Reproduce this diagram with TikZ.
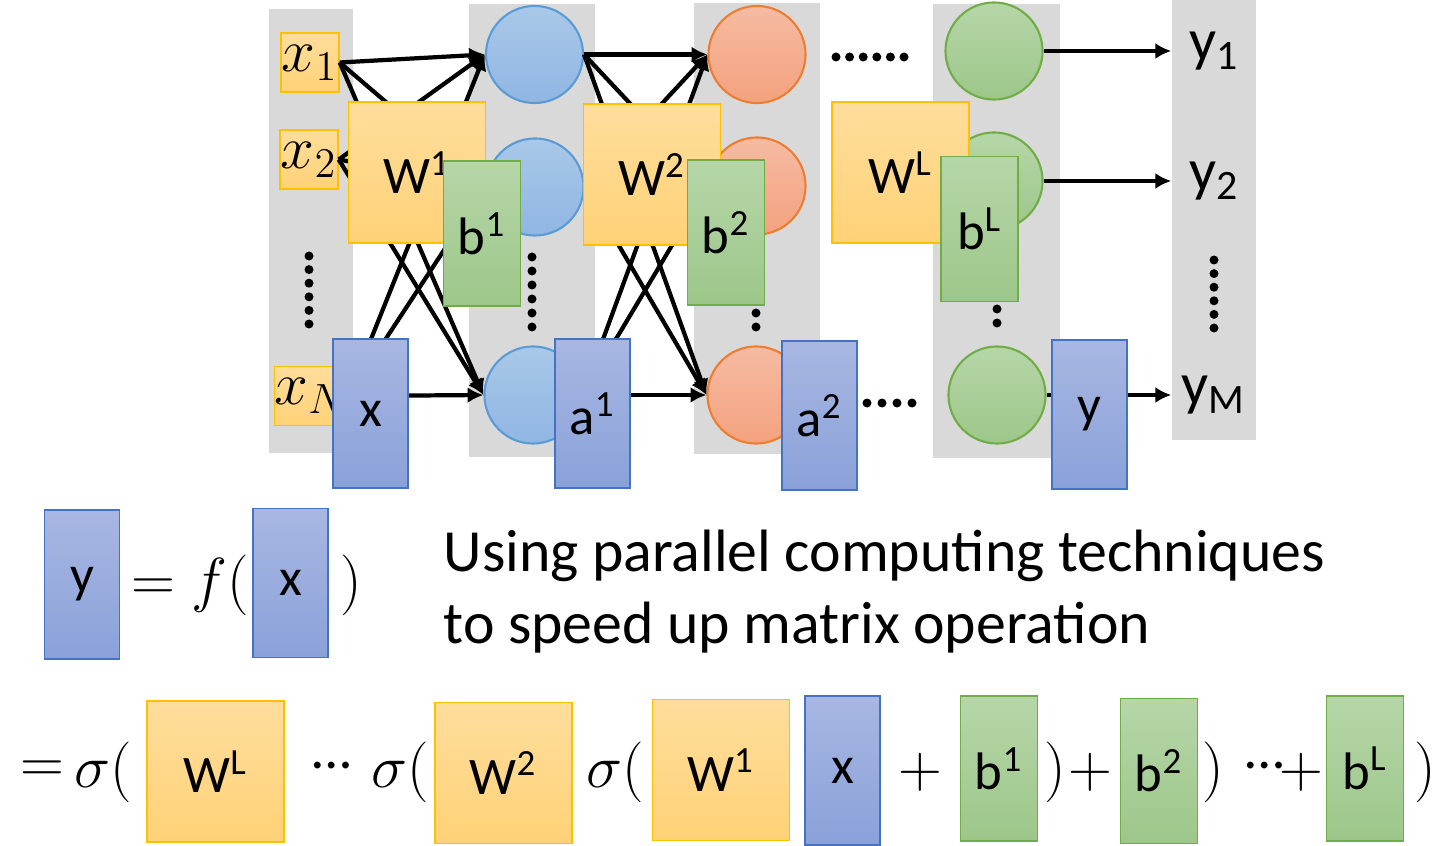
\documentclass[tikz,border=0pt]{standalone}
\usepackage[no-math]{fontspec}
\setmainfont{Carlito}
\usetikzlibrary{arrows.meta}

\definecolor{colgray}{HTML}{D9D9D9}
\definecolor{goldline}{HTML}{FFC000}
\definecolor{goldtop}{HTML}{FFDD9C}
\definecolor{goldbot}{HTML}{FFD277}
\definecolor{greenline}{HTML}{70AD47}
\definecolor{greentop}{HTML}{B6D6A8}
\definecolor{greenbot}{HTML}{9DC78A}
\definecolor{blueline}{HTML}{4472C4}
\definecolor{bluetop}{HTML}{A8B7E2}
\definecolor{bluebot}{HTML}{8AA1D9}
\definecolor{nblueline}{HTML}{5B9BD5}
\definecolor{nbluetop}{HTML}{A9C8E9}
\definecolor{nbluebot}{HTML}{90B6E3}
\definecolor{nredline}{HTML}{ED7D31}
\definecolor{nredtop}{HTML}{F5BBA2}
\definecolor{nredbot}{HTML}{F4A27E}

\begin{document}
\begin{tikzpicture}[x=0.01cm, y=-0.01cm, >=latex,
	font=\fontsize{15}{18}\selectfont,
	inbox/.style={draw=goldline, top color=goldtop, bottom color=goldbot, minimum width=0.58cm, minimum height=0.59cm, inner sep=0pt, font=\fontsize{17}{20}\selectfont},
	wbox/.style={draw=goldline, top color=goldtop, bottom color=goldbot, minimum width=1.37cm, minimum height=1.41cm, inner sep=0pt},
	bbox/.style={draw=greenline, top color=greentop, bottom color=greenbot, minimum width=0.77cm, minimum height=1.45cm, inner sep=0pt},
	vbox/.style={draw=blueline, top color=bluetop, bottom color=bluebot, minimum width=0.75cm, minimum height=1.49cm, inner sep=0pt},
	neuron/.style={circle, minimum size=0.97cm, inner sep=0pt, line width=0.6pt},
	blueneuron/.style={neuron, draw=nblueline, top color=nbluetop, bottom color=nbluebot},
	redneuron/.style={neuron, draw=nredline, top color=nredtop, bottom color=nredbot},
	greenneuron/.style={neuron, draw=greenline, top color=greentop, bottom color=greenbot},
	outlabel/.style={minimum width=0.84cm, inner sep=0pt, font=\fontsize{17}{20}\selectfont},
	eqtext/.style={inner sep=0pt, font=\fontsize{16}{19}\selectfont},
	arrow/.style={-{Latex[length=4.5pt, width=4.5pt]}, line width=1.2pt}]

	\useasboundingbox (0,0) rectangle (1443,846);

	% Columnas de fondo
	\fill[colgray] (269,9) rectangle (353,453);
	\fill[colgray] (469,4) rectangle (595,457);
	\fill[colgray] (694,3) rectangle (820,454);
	\fill[colgray] (933,4) rectangle (1060,458);
	\fill[colgray] (1172,0) rectangle (1256,440);

	% Entradas
	\node[inbox] (in_1) at (310,62.5) {$x_1$};
	\node[inbox] (in_2) at (309,159.5) {$x_2$};
	\node[inbox] (in_n) at (311,396) {$x_N$};

	% Capas ocultas
	\node[blueneuron] (h1_1) at (534.5,54.5) {};
	\node[blueneuron] (h1_2) at (535,187) {};
	\node[blueneuron] (h1_3) at (533,395) {};
	\node[redneuron] (h2_1) at (757,54.5) {};
	\node[redneuron] (h2_2) at (757,186) {};
	\node[redneuron] (h2_3) at (756,395) {};
	\node[greenneuron] (hl_1) at (994,51) {};
	\node[greenneuron] (hl_2) at (994,181) {};
	\node[greenneuron] (hl_3) at (997,395) {};

	% Salidas
	\node[outlabel] (out_1) at (1214,51) {y\textsubscript{1}};
	\node[outlabel] (out_2) at (1214,181) {y\textsubscript{2}};
	\node[outlabel] (out_m) at (1214,395) {y\textsubscript{M}};

	% Conexiones
	\foreach \i in {1,2,n} {
		\foreach \j in {1,2,3} {
			\draw[arrow] (in_\i.east) -- (h1_\j.west);
		}
	}
	\foreach \i in {1,2,3} {
		\foreach \j in {1,2,3} {
			\draw[arrow] (h1_\i.east) -- (h2_\j.west);
		}
	}
	\draw[arrow] (hl_1.east) -- (out_1.west);
	\draw[arrow] (hl_2.east) -- (out_2.west);
	\draw[arrow] (hl_3.east) -- (out_m.west);

	% Puntos suspensivos
	\foreach \k in {0,...,5} {
		\fill (309,256+13.6*\k) circle (4.5);
		\fill (532,257+14*\k) circle (4.5);
		\fill (1214,260+13.6*\k) circle (4.5);
		\fill (836+13.6*\k,57) circle (4.5);
	}
	\foreach \k in {0,1} {
		\fill (756,313+14*\k) circle (4.5);
		\fill (997,309+14*\k) circle (4.5);
	}
	\foreach \k in {0,...,3} {
		\fill (867+15*\k,403) circle (4.5);
	}

	% Matrices y vectores
	\node[wbox] (w_1) at (417,172.5) {W\textsuperscript{1}};
	\node[wbox] (w_2) at (652,174.5) {W\textsuperscript{2}};
	\node[wbox] (w_l) at (900.5,172.5) {W\textsuperscript{L}};
	\node[bbox] (b_1) at (482,233.5) {b\textsuperscript{1}};
	\node[bbox] (b_2) at (726,232.5) {b\textsuperscript{2}};
	\node[bbox] (b_l) at (979.5,229) {b\textsuperscript{L}};
	\node[vbox] (vec_x) at (370.5,413.5) {x};
	\node[vbox] (vec_a1) at (592.5,413.5) {a\textsuperscript{1}};
	\node[vbox] (vec_a2) at (819.5,415.5) {a\textsuperscript{2}};
	\node[vbox] (vec_y) at (1089.5,414.5) {y};

	% Ecuacion y = f(x)
	\node[vbox] (eq_y) at (82,584.5) {y};
	\node[eqtext] (eq_f) at (190,585) {$=f($};
	\node[vbox] (eq_x) at (290.5,583) {x};
	\node[eqtext] (eq_fc) at (351,585) {$)$};

	\node[inner sep=0pt, font=\fontsize{17}{20}\selectfont, anchor=base west] (txt_1) at (443,571) {Using parallel computing techniques};
	\node[inner sep=0pt, font=\fontsize{17}{20}\selectfont, anchor=base west] (txt_2) at (443,643) {to speed up matrix operation};

	% Ecuacion desarrollada
	\node[eqtext] (eq_eq) at (42,772) {$=$};
	\node[eqtext] (eq_s1) at (103,772) {$\sigma($};
	\node[wbox] (eq_wl) at (215.5,771.5) {W\textsuperscript{L}};
	\node[eqtext] (eq_d1) at (332,772) {\raisebox{.25em}{…}};
	\node[eqtext] (eq_s2) at (400,772) {$\sigma($};
	\node[wbox] (eq_w2) at (503.5,773) {W\textsuperscript{2}};
	\node[eqtext] (eq_s3) at (615,772) {$\sigma($};
	\node[wbox] (eq_w1) at (721,770) {W\textsuperscript{1}};
	\node[vbox] (eq_vx) at (842.5,770.5) {x};
	\node[eqtext] (eq_p1) at (920,772) {$+$};
	\node[bbox] (eq_b1) at (999,768.5) {b\textsuperscript{1}};
	\node[eqtext] (eq_c1) at (1055,772) {$)$};
	\node[eqtext] (eq_p2) at (1090,772) {$+$};
	\node[bbox] (eq_b2) at (1159,771) {b\textsuperscript{2}};
	\node[eqtext] (eq_c2) at (1213,772) {$)$};
	\node[eqtext] (eq_d2) at (1265,772) {\raisebox{.25em}{…}};
	\node[eqtext] (eq_p3) at (1301,772) {$+$};
	\node[bbox] (eq_bl) at (1365,768.5) {b\textsuperscript{L}};
	\node[eqtext] (eq_c3) at (1425,772) {$)$};
\end{tikzpicture}
\end{document}
